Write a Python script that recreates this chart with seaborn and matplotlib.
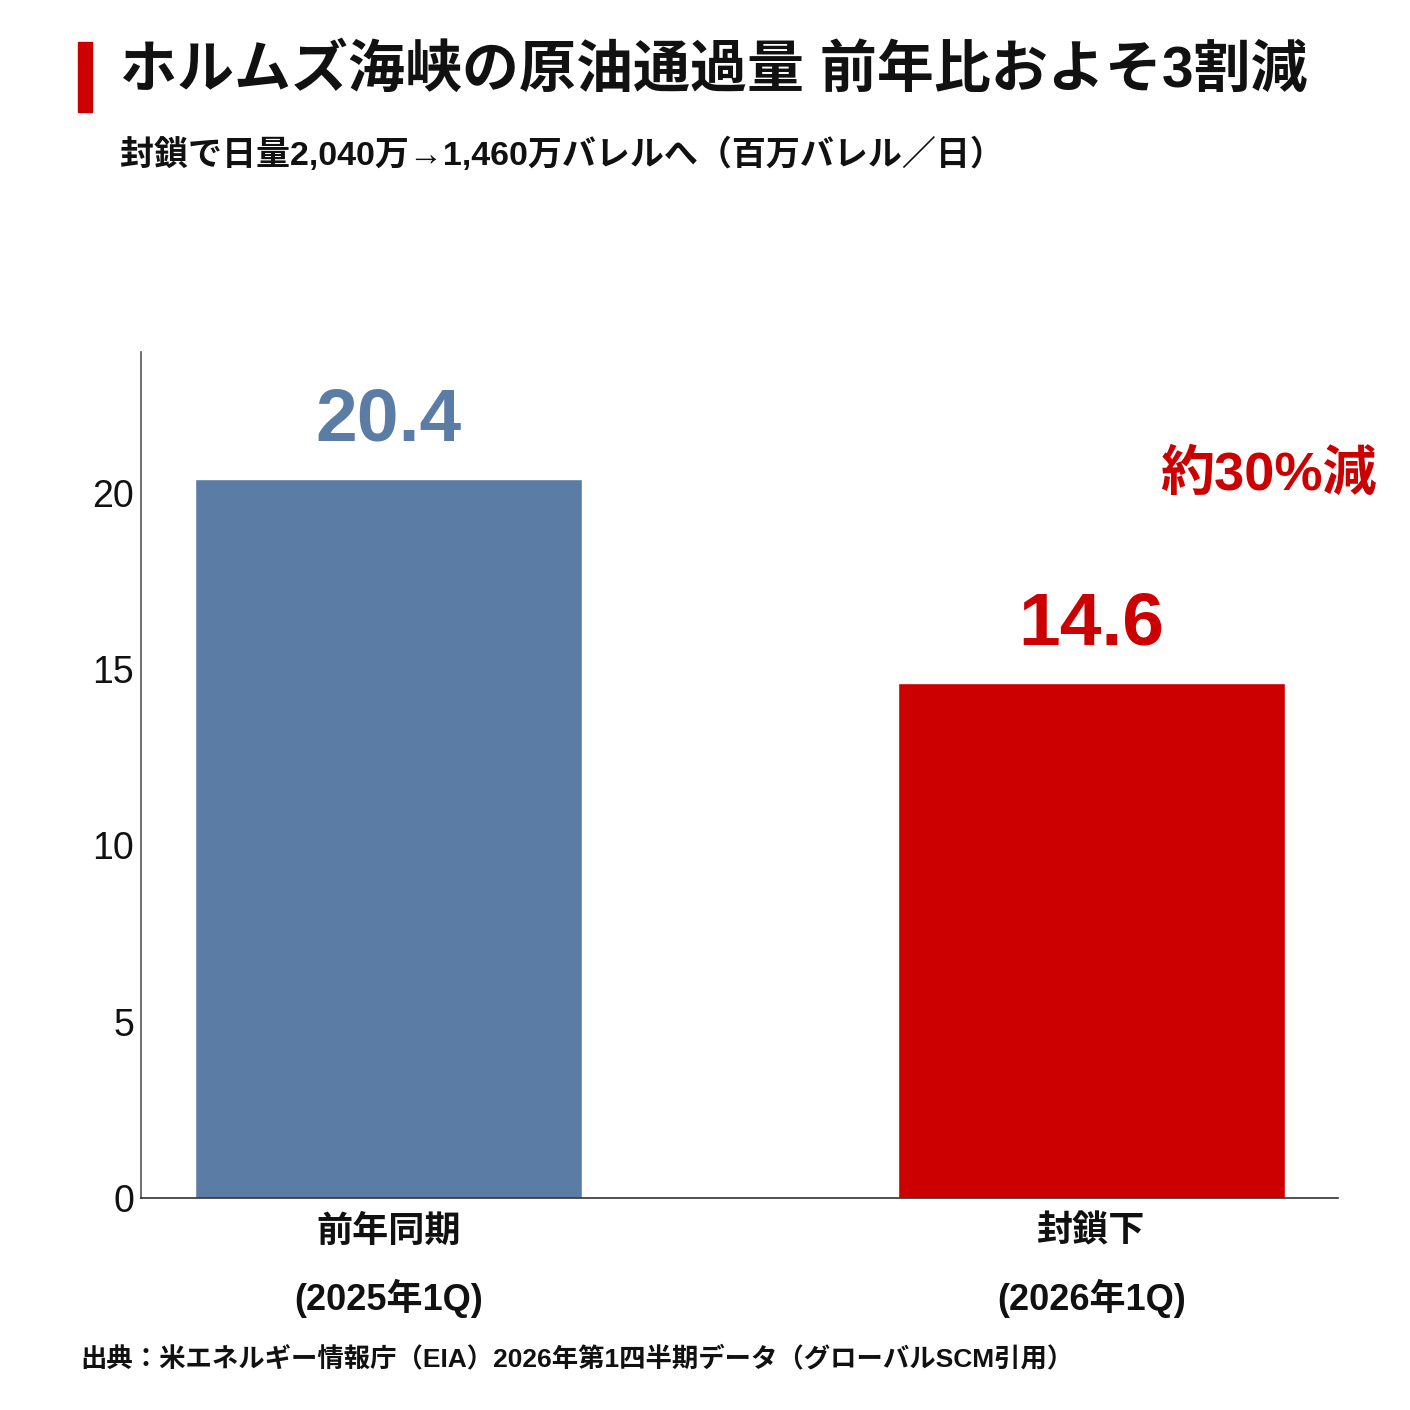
import matplotlib
matplotlib.use("Agg")
import matplotlib.pyplot as plt
from matplotlib import font_manager
from matplotlib.patches import Rectangle
import seaborn as sns
import pandas as pd

# ── data ─────────────────────────────────────────────
categories = ["前年同期\n(2025年1Q)", "封鎖下\n(2026年1Q)"]
values = [20.4, 14.6]
bar_colors = ["#5b7ca4", "#cc0000"]
yticks = [0, 5, 10, 15, 20]

title = "ホルムズ海峡の原油通過量 前年比およそ3割減"
subtitle = "封鎖で日量2,040万→1,460万バレルへ（百万バレル／日）"
callout = "約30%減"
source = "出典：米エネルギー情報庁（EIA）2026年第1四半期データ（グローバルSCM引用）"

# ── fonts ────────────────────────────────────────────
names = {f.name for f in font_manager.fontManager.ttflist}
narrow = "Liberation Sans Narrow" if "Liberation Sans Narrow" in names else "Liberation Sans"
FAM = [narrow, "Noto Sans CJK JP", "DejaVu Sans"]

sns.set_theme(style="white")
plt.rcParams["font.family"] = FAM

df = pd.DataFrame({"cat": categories, "val": values})

fig = plt.figure(figsize=(14.1, 14.1), dpi=100)
ax = fig.add_axes([0.1, 0.1504, 0.849, 0.6])

sns.barplot(data=df, x="cat", y="val", hue="cat", palette=bar_colors,
            saturation=1, width=0.55, legend=False, ax=ax)

ax.set_xlim(-0.352, 1.351)
ax.set_ylim(0, 24)
ax.set_yticks(yticks)
ax.set_yticklabels([str(t) for t in yticks], fontsize=27, color="#111111")
ax.set_xlabel("")
ax.set_ylabel("")
ax.tick_params(axis="y", length=0, pad=5)
ax.tick_params(axis="x", length=0, pad=12)
for lab in ax.get_xticklabels():
    lab.set_fontsize(26)
    lab.set_fontweight("bold")
    lab.set_linespacing(1.95)
    lab.set_color("#111111")

for s in ["top", "right"]:
    ax.spines[s].set_visible(False)
ax.spines["left"].set_color("#555555")
ax.spines["left"].set_linewidth(1.2)
ax.spines["bottom"].set_color("#333333")
ax.spines["bottom"].set_linewidth(1.2)

# value labels
for i, (v, c) in enumerate(zip(values, bar_colors)):
    ax.annotate(f"{v:.1f}", xy=(i, v), xytext=(0, 17), textcoords="offset points",
                ha="center", va="bottom", fontsize=54, fontweight="bold", color=c)

# callout
fig.text(1268 / 1410, 1 - 475 / 1410, callout, ha="center", va="center",
         fontsize=39, fontweight="bold", color="#cc0000")

# title block
fig.patches.append(Rectangle((78 / 1410, 1 - 112 / 1410), 14 / 1410, 70 / 1410,
                             transform=fig.transFigure, color="#cc0000"))
fig.text(120 / 1410, 1 - 72 / 1410, title, ha="left", va="center",
         fontsize=41, fontweight="bold", color="#111111")
fig.text(120 / 1410, 1 - 155 / 1410, subtitle, ha="left", va="center",
         fontsize=24.5, fontweight="bold", color="#111111")
fig.text(80 / 1410, 1 - 1358 / 1410, source, ha="left", va="center",
         fontsize=19, fontweight="bold", color="#111111")

fig.savefig("out.png", dpi=100, facecolor="white")
